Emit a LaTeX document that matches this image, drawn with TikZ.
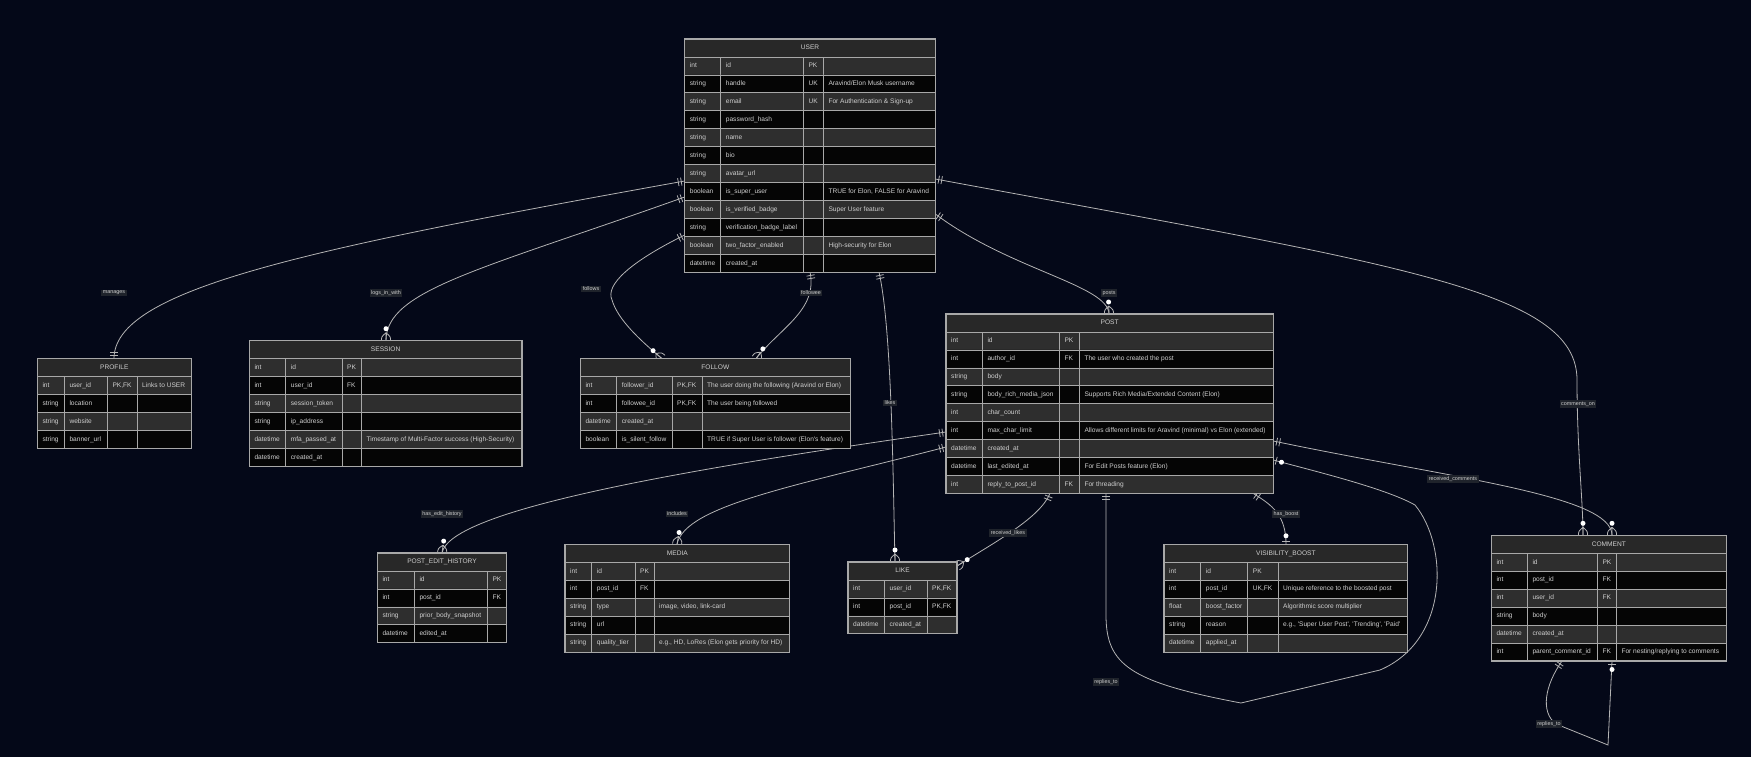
\documentclass[tikz,border=0pt]{standalone}
\usepackage{fontspec}
\setmainfont{Liberation Sans}
\definecolor{bg}{HTML}{040818}
\definecolor{hdr}{HTML}{282828}
\definecolor{rowodd}{HTML}{2E2E2E}
\definecolor{roweven}{HTML}{050505}
\definecolor{bord}{HTML}{A8A8A8}
\definecolor{txtc}{HTML}{CFCFCF}
\definecolor{lnk}{HTML}{B4B4B4}
\definecolor{lblbg}{HTML}{1F232B}
\newcommand\rh{17.95}
\newcommand\settab[7]{\def\tN{#1}\def\tA{#2}\def\tB{#3}\def\tC{#4}\def\tD{#5}\def\tE{#6}\def\tT{#7}}
\newcommand\thead[1]{%
  \pgfmathsetmacro\tH{\tT+18}%
  \filldraw[cellb,fill=hdr] (\tA,\tT) rectangle (\tE,\tH);
  \pgfmathsetmacro\xm{(\tA+\tE)/2}\pgfmathsetmacro\ym{\tT+9}%
  \node[celltxt,anchor=center] (\tN) at (\xm,\ym) {#1};}
\newcommand\erow[5]{%
  \pgfmathsetmacro\ya{\tH+(#1-1)*\rh}%
  \pgfmathsetmacro\yb{\ya+\rh}%
  \pgfmathsetmacro\ym{\ya+\rh/2}%
  \ifodd#1\relax\def\rf{rowodd}\else\def\rf{roweven}\fi
  \filldraw[cellb,fill=\rf] (\tA,\ya) rectangle (\tB,\yb) (\tB,\ya) rectangle (\tC,\yb) (\tC,\ya) rectangle (\tD,\yb) (\tD,\ya) rectangle (\tE,\yb);
  \node[celltxt] (\tN-#1-t) at (\tA+5,\ym) {#2};
  \node[celltxt] (\tN-#1-n) at (\tB+5,\ym) {#3};
  \node[celltxt] (\tN-#1-k) at (\tC+5,\ym) {#4};
  \node[celltxt] (\tN-#1-c) at (\tD+5,\ym) {#5};}
\newcommand\tend[1]{\pgfmathsetmacro\yb{\tH+#1*\rh}\draw[outerb] (\tA,\tT) rectangle (\tE,\yb);}
\tikzset{
  cellb/.style={draw=bord, line width=0.8pt},
  outerb/.style={draw=bord, line width=1.1pt},
  celltxt/.style={anchor=west, inner sep=0pt, text=txtc, text height=4.8pt, text depth=1.3pt, font=\fontsize{6.6}{7}\selectfont},
  lnkline/.style={draw=lnk, line width=0.8pt},
  lbl/.style={fill=lblbg, text=txtc, font=\fontsize{5.4}{6}\selectfont, inner xsep=1.5pt, inner ysep=1.3pt},
  pics/mone/.style={code={\draw[lnkline] (3.5,-4) -- (3.5,4) (6.5,-4) -- (6.5,4);}},
  pics/mzmany/.style={code={\draw[lnkline] (0,-4.5) .. controls (4,-4.5) .. (8,0) (0,4.5) .. controls (4,4.5) .. (8,0) (0,0) -- (8,0); \fill[white] (12,0) circle (2.5);}},
  pics/mzone/.style={code={\draw[lnkline] (3,-4) -- (3,4); \fill[white] (8.5,0) circle (2.5);}},
}
\begin{document}
\begin{tikzpicture}[x=1pt,y=-1pt]
\fill[bg] (0,0) rectangle (1751,757);
\useasboundingbox (0,0) rectangle (1751,757);
% endpoints
\coordinate (u-man) at (684.7,181);
\coordinate (pr-t) at (114,358.7);
\coordinate (u-log) at (684.7,197);
\coordinate (se-t) at (386,340.7);
\coordinate (u-fol) at (684.7,235);
\coordinate (fo-a) at (662,358.7);
\coordinate (u-fee) at (810,272);
\coordinate (fo-b) at (756,358.7);
\coordinate (u-lik) at (879,272);
\coordinate (li-t) at (895,562);
\coordinate (u-pos) at (935.3,214);
\coordinate (po-t) at (1109,314);
\coordinate (u-com) at (935.3,179);
\coordinate (co-a) at (1583,535.3);
\coordinate (po-rc) at (1273.3,441);
\coordinate (co-b) at (1612,535.3);
\coordinate (po-rl) at (1050,493.3);
\coordinate (li-r) at (957,566);
\coordinate (po-eh) at (946,432);
\coordinate (pe-t) at (442,553);
\coordinate (po-inc) at (946,447);
\coordinate (me-t) at (677,544.3);
\coordinate (po-hb) at (1253,493.3);
\coordinate (vb-t) at (1286,544.3);
\coordinate (po-rb) at (1106,493.3);
\coordinate (po-rr) at (1273.3,460);
\coordinate (co-p) at (1562,661);
\coordinate (co-q) at (1612,661);
% connectors
\draw[lnkline] (u-man) .. controls (300,250) and (114,290) .. (pr-t);
\draw[lnkline] (u-log) .. controls (480,270) and (386,290) .. (se-t);
\draw[lnkline] (u-fol) .. controls (630,262) and (605,285) .. (612,300) .. controls (618,320) and (640,340) .. (fo-a);
\draw[lnkline] (u-fee) .. controls (818,310) and (780,328) .. (fo-b);
\draw[lnkline] (u-lik) .. controls (892,330) and (893,480) .. (li-t);
\draw[lnkline] (u-pos) .. controls (1010,270) and (1108,285) .. (po-t);
\draw[lnkline] (u-com) .. controls (1400,265) and (1577,290) .. (1577,380) .. controls (1577,450) and (1583,500) .. (co-a);
\draw[lnkline] (po-rc) .. controls (1450,478) and (1612,495) .. (co-b);
\draw[lnkline] (po-rl) .. controls (1040,518) and (995,542) .. (li-r);
\draw[lnkline] (po-eh) .. controls (680,470) and (450,510) .. (pe-t);
\draw[lnkline] (po-inc) .. controls (800,485) and (685,505) .. (me-t);
\draw[lnkline] (po-hb) .. controls (1272,505) and (1286,515) .. (vb-t);
\draw[lnkline] (po-rb) -- (1106,615) .. controls (1106,665) and (1130,682) .. (1241,703) -- (1380,670) .. controls (1450,640) and (1448,545) .. (1415,505) .. controls (1385,488) and (1310,470) .. (po-rr);
\draw[lnkline] (co-p) .. controls (1545,685) and (1540,712) .. (1556,724) -- (1608,745) -- (co-q);
% markers
\pic[rotate=190] at (u-man) {mone};
\pic[rotate=90] at (pr-t) {mone};
\pic[rotate=200] at (u-log) {mone};
\pic[rotate=90] at (se-t) {mzmany};
\pic[rotate=206] at (u-fol) {mone};
\pic[rotate=138] at (fo-a) {mzmany};
\pic[rotate=-80] at (u-fee) {mone};
\pic[rotate=55] at (fo-b) {mzmany};
\pic[rotate=-78] at (u-lik) {mone};
\pic[rotate=90] at (li-t) {mzmany};
\pic[rotate=-33] at (u-pos) {mone};
\pic[rotate=92] at (po-t) {mzmany};
\pic[rotate=-10.5] at (u-com) {mone};
\pic[rotate=90] at (co-a) {mzmany};
\pic[rotate=-12] at (po-rc) {mone};
\pic[rotate=90] at (co-b) {mzmany};
\pic[rotate=248] at (po-rl) {mone};
\pic[rotate=32] at (li-r) {mzmany};
\pic[rotate=189] at (po-eh) {mone};
\pic[rotate=82] at (pe-t) {mzmany};
\pic[rotate=194.5] at (po-inc) {mone};
\pic[rotate=80] at (me-t) {mzmany};
\pic[rotate=-35] at (po-hb) {mone};
\pic[rotate=90] at (vb-t) {mzone};
\pic[rotate=-90] at (po-rb) {mone};
\pic[rotate=-15] at (po-rr) {mzone};
\pic[rotate=235] at (co-p) {mone};
\pic[rotate=-90] at (co-q) {mzone};
% USER
\settab{user}{684.7}{720.7}{803.3}{823.3}{935.3}{39}
\thead{USER}
\erow{1}{int}{id}{PK}{}
\erow{2}{string}{handle}{UK}{Aravind/Elon Musk username}
\erow{3}{string}{email}{UK}{For Authentication \& Sign-up}
\erow{4}{string}{password\_hash}{}{}
\erow{5}{string}{name}{}{}
\erow{6}{string}{bio}{}{}
\erow{7}{string}{avatar\_url}{}{}
\erow{8}{boolean}{is\_super\_user}{}{TRUE for Elon, FALSE for Aravind}
\erow{9}{boolean}{is\_verified\_badge}{}{Super User feature}
\erow{10}{string}{verification\_badge\_label}{}{}
\erow{11}{boolean}{two\_factor\_enabled}{}{High-security for Elon}
\erow{12}{datetime}{created\_at}{}{}
\tend{12}
% POST
\settab{post}{946}{982.3}{1059.3}{1079.3}{1273.3}{314}
\thead{POST}
\erow{1}{int}{id}{PK}{}
\erow{2}{int}{author\_id}{FK}{The user who created the post}
\erow{3}{string}{body}{}{}
\erow{4}{string}{body\_rich\_media\_json}{}{Supports Rich Media/Extended Content (Elon)}
\erow{5}{int}{char\_count}{}{}
\erow{6}{int}{max\_char\_limit}{}{Allows different limits for Aravind (minimal) vs Elon (extended)}
\erow{7}{datetime}{created\_at}{}{}
\erow{8}{datetime}{last\_edited\_at}{}{For Edit Posts feature (Elon)}
\erow{9}{int}{reply\_to\_post\_id}{FK}{For threading}
\tend{9}
% PROFILE
\settab{profile}{37.3}{64.3}{107.3}{137}{191.3}{358.7}
\thead{PROFILE}
\erow{1}{int}{user\_id}{PK,FK}{Links to USER}
\erow{2}{string}{location}{}{}
\erow{3}{string}{website}{}{}
\erow{4}{string}{banner\_url}{}{}
\tend{4}
% SESSION
\settab{session}{249.3}{285.7}{342}{361.3}{522}{340.7}
\thead{SESSION}
\erow{1}{int}{id}{PK}{}
\erow{2}{int}{user\_id}{FK}{}
\erow{3}{string}{session\_token}{}{}
\erow{4}{string}{ip\_address}{}{}
\erow{5}{datetime}{mfa\_passed\_at}{}{Timestamp of Multi-Factor success (High-Security)}
\erow{6}{datetime}{created\_at}{}{}
\tend{6}
% FOLLOW
\settab{follow}{580.3}{616.7}{672}{702}{850.3}{358.7}
\thead{FOLLOW}
\erow{1}{int}{follower\_id}{PK,FK}{The user doing the following (Aravind or Elon)}
\erow{2}{int}{followee\_id}{PK,FK}{The user being followed}
\erow{3}{datetime}{created\_at}{}{}
\erow{4}{boolean}{is\_silent\_follow}{}{TRUE if Super User is follower (Elon\textquotesingle s feature)}
\tend{4}
% POST_EDIT_HISTORY
\settab{peh}{377.3}{414.3}{487.3}{506.7}{506.7}{553}
\thead{POST\_EDIT\_HISTORY}
\erow{1}{int}{id}{PK}{}
\erow{2}{int}{post\_id}{FK}{}
\erow{3}{string}{prior\_body\_snapshot}{}{}
\erow{4}{datetime}{edited\_at}{}{}
\tend{4}
% MEDIA
\settab{media}{565}{591.7}{635}{654}{789.7}{544.3}
\thead{MEDIA}
\erow{1}{int}{id}{PK}{}
\erow{2}{int}{post\_id}{FK}{}
\erow{3}{string}{type}{}{image, video, link-card}
\erow{4}{string}{url}{}{}
\erow{5}{string}{quality\_tier}{}{e.g., HD, LoRes (Elon gets priority for HD)}
\tend{5}
% LIKE
\settab{like}{848}{884.5}{927}{957}{957}{562}
\thead{LIKE}
\erow{1}{int}{user\_id}{PK,FK}{}
\erow{2}{int}{post\_id}{PK,FK}{}
\erow{3}{datetime}{created\_at}{}{}
\tend{3}
% VISIBILITY_BOOST
\settab{vb}{1164}{1200.7}{1247.7}{1278}{1407.7}{544.3}
\thead{VISIBILITY\_BOOST}
\erow{1}{int}{id}{PK}{}
\erow{2}{int}{post\_id}{UK,FK}{Unique reference to the boosted post}
\erow{3}{float}{boost\_factor}{}{Algorithmic score multiplier}
\erow{4}{string}{reason}{}{e.g., \textquotesingle Super User Post\textquotesingle, \textquotesingle Trending\textquotesingle, \textquotesingle Paid\textquotesingle}
\erow{5}{datetime}{applied\_at}{}{}
\tend{5}
% COMMENT
\settab{comment}{1491.3}{1527.3}{1597.3}{1616.3}{1726.3}{535.3}
\thead{COMMENT}
\erow{1}{int}{id}{PK}{}
\erow{2}{int}{post\_id}{FK}{}
\erow{3}{int}{user\_id}{FK}{}
\erow{4}{string}{body}{}{}
\erow{5}{datetime}{created\_at}{}{}
\erow{6}{int}{parent\_comment\_id}{FK}{For nesting/replying to comments}
\tend{6}
% labels
\node[lbl] (l-man) at (114,293) {manages};
\node[lbl] (l-log) at (386,293) {logs\_in\_with};
\node[lbl] (l-fol) at (591,289) {follows};
\node[lbl] (l-fee) at (811,293) {followee};
\node[lbl] (l-lik) at (890,403) {likes};
\node[lbl] (l-pos) at (1109,293) {posts};
\node[lbl] (l-com) at (1578,404) {comments\_on};
\node[lbl] (l-rc) at (1453,479) {received\_comments};
\node[lbl] (l-eh) at (442,514) {has\_edit\_history};
\node[lbl] (l-inc) at (677,514) {includes};
\node[lbl] (l-rl) at (1008,533) {received\_likes};
\node[lbl] (l-hb) at (1286,514) {has\_boost};
\node[lbl] (l-rp) at (1106,682) {replies\_to};
\node[lbl] (l-rc2) at (1549,724) {replies\_to};
\end{tikzpicture}
\end{document}
